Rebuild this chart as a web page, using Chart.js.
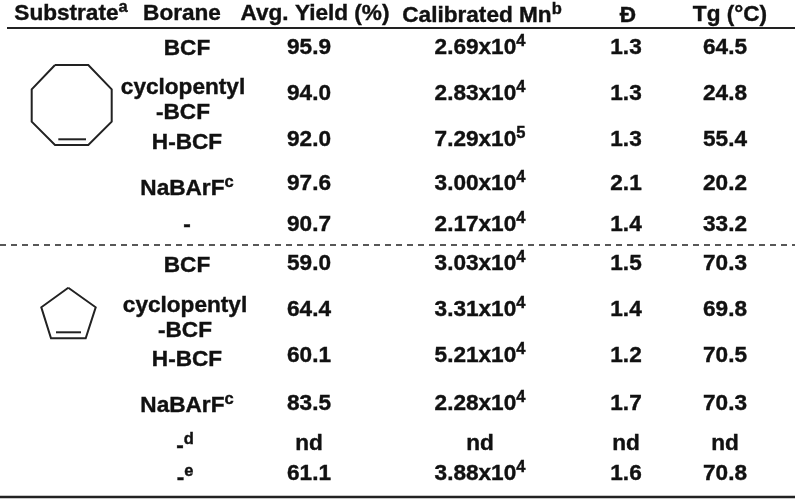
<!DOCTYPE html>
<html>
<head>
<meta charset="utf-8">
<style>
  html, body { margin: 0; padding: 0; background: #fff; }
  canvas { display: block; filter: blur(0.45px); }
</style>
<script src="https://cdn.jsdelivr.net/npm/chart.js@4"></script>
</head>
<body>
<canvas id="chart" width="795" height="499"></canvas>
<script>
// table contents
const headers = [['Substrate', 'a'], ['Borane'], ['Avg. Yield (%)'], ['Calibrated Mn', 'b'], ['Ð'], ['Tg (°C)']];
const boranes = [['BCF'], ['cyclopentyl'], ['-BCF'], ['H-BCF'], ['NaBArF', 'c'], ['-'],
                 ['BCF'], ['cyclopentyl'], ['-BCF'], ['H-BCF'], ['NaBArF', 'c'], ['-', 'd'], ['-', 'e']];
const yields = ['95.9', '94.0', '92.0', '97.6', '90.7', '59.0', '64.4', '60.1', '83.5', 'nd', '61.1'];
const mnValues = ['2.69x10', '2.83x10', '7.29x10', '3.00x10', '2.17x10', '3.03x10', '3.31x10', '5.21x10', '2.28x10', 'nd', '3.88x10'];
const mnExponents = ['4', '4', '5', '4', '4', '4', '4', '4', '4', '', '4'];
const dispersity = ['1.3', '1.3', '1.3', '2.1', '1.4', '1.5', '1.4', '1.2', '1.7', 'nd', '1.6'];
const tg = ['64.5', '24.8', '55.4', '20.2', '33.2', '70.3', '69.8', '70.5', '70.3', 'nd', '70.8'];

// layout, in the units of the two hidden axes
const headerX = [71, 182, 315, 482, 628, 730];
const headerY = [14, 14, 14, 16, 16, 15];
const boraneX = [187, 183, 183, 187, 187, 187, 187, 185, 185, 187, 187, 185, 185];
const boraneY = [49, 88, 113, 143, 189, 225, 266, 306, 331, 360, 406, 446, 478];
const valueY = [48, 94, 140, 184, 225, 264, 310, 356, 404, 444, 474];
const yieldX = 309, mnX = 480, dispX = 626, tgX = 725;

const octagon = [[55, 65], [88.3, 65], [111.7, 89.3], [111.7, 121.7], [88.3, 145], [55, 145], [31.7, 121.7], [31.7, 89.3], [55, 65]];
const octagonBond = [[58.3, 139.3], [86, 139.3]];
const pentagon = [[68.3, 287.7], [95.7, 307.3], [85.7, 338.3], [51, 338.3], [41.3, 307.3], [68.3, 287.7]];
const pentagonBond = [[56, 332.3], [81, 332.3]];

const toPoints = pts => pts.map(p => ({ x: p[0], y: p[1] }));

function textSet(labels, xs, ys) {
    return {
        type: 'scatter',
        labels_: labels,
        data: labels.map((l, i) => ({ x: Array.isArray(xs) ? xs[i] : xs, y: ys[i] })),
        pointRadius: 0,
        showLine: false
    };
}

function lineSet(pts, width, dash) {
    return {
        type: 'scatter',
        data: toPoints(pts),
        showLine: true,
        pointRadius: 0,
        borderColor: '#222',
        borderWidth: width,
        borderDash: dash || [],
        clip: false
    };
}

// writes each cell's text where the scales put its point
const cellText = {
    id: 'cellText',
    afterDatasetsDraw(chart) {
        const ctx = chart.ctx;
        const font = 'bold 22.6px "Liberation Sans"';
        const supFont = 'bold 16.5px "Liberation Sans"';
        ctx.save();
        ctx.fillStyle = '#111';
        ctx.strokeStyle = '#111';
        ctx.lineWidth = 0.4;
        ctx.textBaseline = 'middle';
        ctx.textAlign = 'left';
        chart.data.datasets.forEach((ds, d) => {
            if (!ds.labels_) return;
            chart.getDatasetMeta(d).data.forEach((pt, i) => {
                const [main, sup] = ds.labels_[i];
                ctx.font = font;
                const w = ctx.measureText(main).width;
                ctx.font = supFont;
                const sw = sup ? ctx.measureText(sup).width : 0;
                const left = pt.x - (w + sw) / 2;
                ctx.font = font;
                ctx.fillText(main, left, pt.y);
                ctx.strokeText(main, left, pt.y);
                if (sup) {
                    ctx.font = supFont;
                    ctx.fillText(sup, left + w, pt.y - 7);
                    ctx.strokeText(sup, left + w, pt.y - 7);
                }
            });
        });
        ctx.restore();
    }
};

new Chart(document.getElementById('chart'), {
    type: 'scatter',
    data: {
        datasets: [
            textSet(headers, headerX, headerY),
            textSet(boranes, boraneX, boraneY),
            textSet(yields.map(v => [v]), yieldX, valueY),
            textSet(mnValues.map((v, i) => [v, mnExponents[i]]), mnX, valueY),
            textSet(dispersity.map(v => [v]), dispX, valueY),
            textSet(tg.map(v => [v]), tgX, valueY),
            lineSet([[7, 28], [795, 28]], 2),
            lineSet([[0, 245], [795, 245]], 1.6, [6, 5]),
            lineSet([[0, 497], [795, 497]], 2.5),
            lineSet(octagon, 2),
            lineSet(octagonBond, 2),
            lineSet(pentagon, 2),
            lineSet(pentagonBond, 2)
        ]
    },
    options: {
        responsive: false,
        animation: false,
        devicePixelRatio: 1,
        layout: { padding: 0 },
        plugins: { legend: { display: false }, tooltip: { enabled: false } },
        scales: {
            x: { type: 'linear', display: false, min: 0, max: 795 },
            y: { type: 'linear', display: false, min: 0, max: 499, reverse: true }
        }
    },
    plugins: [cellText]
});
</script>
</body>
</html>
